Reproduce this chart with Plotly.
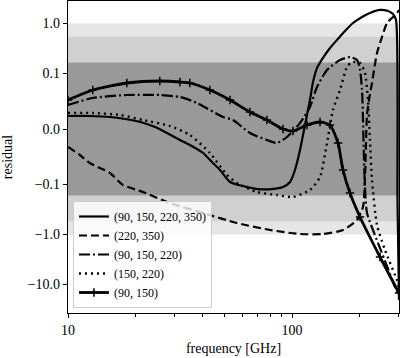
import numpy as np
import plotly.graph_objects as go

# ---------------- data (frequency in GHz, residual) ----------------
f_a = [10, 12.5, 15.4, 18.0, 21.0, 24.5, 27.7, 31.6, 35.0, 40.1, 43.9, 47.7, 52.9, 60.4, 70.5,
       81.4, 91.2, 98.0, 103.1, 108.6, 112, 116.7, 120.3, 124.1, 129.3, 137.5, 147.8, 158.8,
       172.4, 187.2, 205.4, 222.9, 247.1, 268.3, 282.4, 291.3, 295.8, 300.4]
r_a = [0.0234, 0.0234, 0.0216, 0.018, 0.0126, 0.0036, -0.0072, -0.0198, -0.0288, -0.0432,
       -0.0594, -0.0738, -0.0954, -0.107, -0.123, -0.123, -0.112, -0.0954, -0.0738, -0.0378,
       -0.0108, 0.0252, 0.0522, 0.0846, 0.128, 0.204, 0.323, 0.467, 0.706, 1.02, 1.35, 1.62,
       1.86, 1.77, 1.54, 1.17, -0.204, -20.4]

f_b = [10, 11.3, 12.5, 13.9, 15.4, 17.6, 21.6, 28.5, 40.1, 56.8, 79.8, 108.6, 137.5, 168.9,
       195.1, 207.5, 211.8, 214, 216.2, 220.7, 227.6, 239.6, 252.2, 265.6, 282.4, 294.3, 300.4]
r_b = [-0.0324, -0.0468, -0.0612, -0.0702, -0.0792, -0.102, -0.141, -0.234, -0.371, -0.587,
       -0.811, -0.975, -0.975, -0.811, -0.512, -0.281, -0.0864, -0.0252, 0.0252, 0.0522,
       0.0828, 0.256, 0.536, 1.02, 1.35, 1.62, 1.86]

f_c = [10, 12.9, 18.3, 25.7, 31.6, 37.7, 49.2, 54.5, 64.9, 77.3, 85.7, 95.0, 108.6, 120.3,
       129.3, 143.3, 163.8, 181.5, 195.1, 201.2, 205.4, 207.5, 209.6, 211.8, 216.2, 229.9,
       247.1, 265.6, 288.3, 300.4]
r_c = [0.0432, 0.0558, 0.0612, 0.0612, 0.0576, 0.0468, 0.0216, 0.0162, -0.0072, -0.0198,
       -0.0252, -0.0144, 0.0108, 0.0396, 0.0756, 0.117, 0.186, 0.213, 0.186, 0.117, 0.0702,
       0.0162, -0.0558, -0.123, -0.371, -0.811, -1.86, -4.26, -11.2, -16.2]

f_d = [10, 12.9, 17.1, 21.6, 28.5, 35.0, 43.0, 51.3, 56.8, 69.8, 85.7, 101, 120.3, 133.4,
       143.3, 152.4, 163.8, 176.0, 185.3, 201.2, 211.8, 218.4, 222.9, 227.6, 239.6, 260.2,
       297.3, 300.4]
r_d = [0.0288, 0.0288, 0.0252, 0.0162, 0.0054, -0.0108, -0.0432, -0.0828, -0.0972, -0.141,
       -0.162, -0.177, -0.128, -0.0864, -0.0252, 0.0342, 0.0702, 0.135, 0.169, 0.162, 0.102,
       0.0522, -0.0198, -0.0918, -0.644, -2.04, -9.31, -11.7]

f_e = [10, 12.9, 18.3, 25.7, 31.6, 35.0, 43.0, 52.9, 64.9, 77.3, 91.2, 101, 116.7, 133.4,
       147.8, 160.5, 168.9, 181.5, 201.2, 247.1, 300.4]
r_e = [0.0522, 0.0702, 0.0828, 0.0864, 0.0846, 0.0828, 0.0702, 0.0522, 0.0306, 0.0162, 0.0,
       -0.0036, 0.0072, 0.0126, 0.0072, -0.0252, -0.0738, -0.148, -0.446, -2.81, -14.8]

labels = ["(90, 150, 220, 350)", "(220, 350)", "(90, 150, 220)", "(150, 220)", "(90, 150)"]

y_ticks = [1.0, 0.1, 0.0, -0.1, -1.0, -10.0]
y_ticktext = ["1.0", "0.1", "0.0", "\u22120.1", "\u22121.0", "\u221210.0"]
x_ticks = [10, 100]
x_minor = [20, 30, 40, 50, 60, 70, 80, 90, 200, 300]
bands = [1.0, 0.54, 0.165]
band_colors = ["#e6e6e6", "#d0d0d0", "#999999"]

# ---------------- symmetric-log scale (linthresh 0.1, linscale 1) ----------------
LT = 0.1
LS = 1.0 / (1.0 - 1.0 / 10.0)


def symlog(v):
    v = np.asarray(v, dtype=float)
    a = np.abs(v)
    out = np.where(a <= LT, v / LT * LS,
                   np.sign(v) * (LS + np.log10(np.maximum(a, 1e-300) / LT)))
    return out


FONT = "Liberation Serif"

fig = go.Figure()

styles = [
    dict(color="black", width=2.2, dash="solid"),
    dict(color="black", width=2.2, dash="8px,4px"),
    dict(color="black", width=2.2, dash="11px,3px,2px,3px"),
    dict(color="black", width=2.4, dash="2px,4px"),
]
series = [(f_a, r_a), (f_b, r_b), (f_c, r_c), (f_d, r_d)]
for (fx, ry), st, lab in zip(series, styles, labels[:4]):
    fig.add_trace(go.Scatter(x=fx, y=symlog(ry), mode="lines", name=lab,
                             line=dict(shape="spline", smoothing=0.6, **st)))

fig.add_trace(go.Scatter(x=f_e, y=symlog(r_e), mode="lines+markers", name=labels[4],
                         line=dict(color="black", width=2.8, shape="spline", smoothing=0.6),
                         marker=dict(symbol="cross-thin", size=6,
                                     line=dict(color="black", width=1.5))))

for b, c in zip(bands, band_colors):
    fig.add_shape(type="rect", xref="paper", yref="y", x0=0, x1=1,
                  y0=float(symlog(-b)), y1=float(symlog(b)),
                  fillcolor=c, line_width=0, layer="below")

fig.update_layout(
    width=400, height=358,
    margin=dict(l=68, r=1, t=1, b=45, autoexpand=False),
    paper_bgcolor="white", plot_bgcolor="white",
    font=dict(family=FONT, size=14, color="black"),
    showlegend=True,
    legend=dict(x=0.015, y=0.016, xanchor="left", yanchor="bottom",
                bgcolor="rgba(255,255,255,0.8)", bordercolor="#cccccc", borderwidth=1,
                font=dict(family=FONT, size=12), tracegroupgap=0,
                itemwidth=30),
)

fig.update_xaxes(type="log", range=[1, np.log10(300.4)],
                 tickvals=x_ticks, ticktext=[str(t) for t in x_ticks],
                 ticks="outside", ticklen=4, tickwidth=1, tickcolor="black",
                 tickfont=dict(size=14),
                 minor=dict(tickvals=x_minor, ticks="outside", ticklen=2.5, tickwidth=0.8,
                            tickcolor="black", showgrid=False),
                 showgrid=False, zeroline=False,
                 showline=True, linecolor="black", linewidth=1.2, mirror=True,
                 title=dict(text="frequency [GHz]", font=dict(family=FONT, size=14), standoff=6))

fig.update_yaxes(range=[-3.68, 2.56],
                 tickvals=[float(symlog(t)) for t in y_ticks], ticktext=y_ticktext,
                 ticks="outside", ticklen=4, tickwidth=1, tickcolor="black",
                 tickfont=dict(size=14),
                 showgrid=False, zeroline=False,
                 showline=True, linecolor="black", linewidth=1.2, mirror=True,
                 title=dict(text="residual", font=dict(family=FONT, size=14), standoff=14))

fig.write_html("out.html", config={"displayModeBar": False},
               post_script="document.body.style.margin='0';document.body.style.overflow='hidden';")
